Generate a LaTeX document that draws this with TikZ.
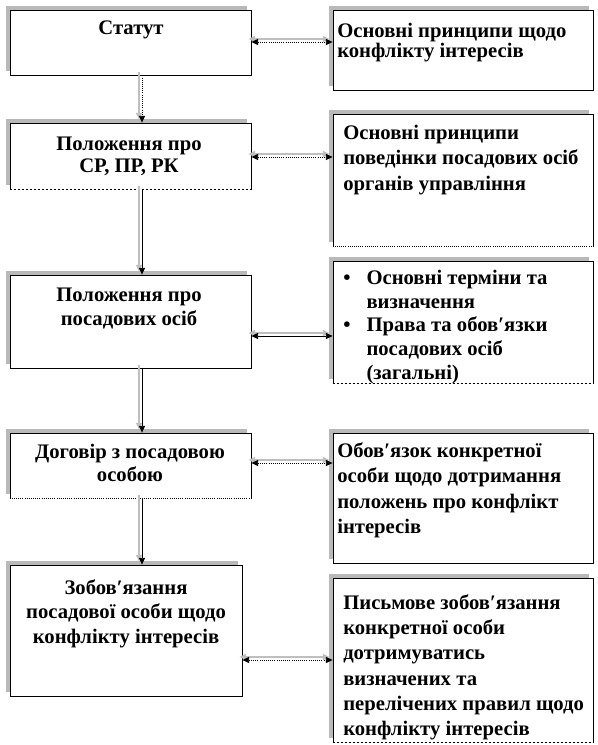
\documentclass[tikz,border=0pt]{standalone}
\usepackage{fontspec}
\setmainfont{Liberation Serif}
\usetikzlibrary{arrows.meta,shadows,fit}
\newcommand{\wsp}{\hspace{4pt}}
\begin{document}
\begin{tikzpicture}[x=0.75pt,y=-0.75pt,
  box/.style={draw=black, line width=0.6pt, fill=white, inner sep=0pt,
    general shadow={fill=gray!55, shadow xshift=-3pt, shadow yshift=3pt}},
  ltext/.style={anchor=north, align=center, inner sep=0pt, font=\bfseries\fontsize{15.5}{18}\selectfont},
  rtext/.style={anchor=north west, align=left, inner sep=0pt, font=\bfseries\fontsize{15.5}{19}\selectfont},
  tipv/.style={-{Triangle[length=5pt,width=4.5pt]}},
  tipd/.style={{Triangle[length=5pt,width=4.5pt]}-{Triangle[length=5pt,width=4.5pt]}},
  conn/.style={line width=0.6pt, preaction={draw=gray!50, line width=1pt, transform canvas={shift={(-3,-3)}}}},
  erase/.style={draw=white, line width=0.9pt},
  edge dot/.style={draw=black, line width=0.6pt, densely dotted},
  edge dash/.style={draw=black, line width=0.6pt, dash pattern=on 2pt off 1pt}
]
\useasboundingbox (0,0) rectangle (598,745);
% left boxes
\node[box, fit={(10,10) (251,75)}] (l1) {};
\node[box, fit={(10,123) (251,189)}] (l2) {};
\node[box, fit={(10,275) (251,368)}] (l3) {};
\node[box, fit={(10,433) (251,498)}] (l4) {};
\node[box, fit={(10,565) (242,696)}] (l5) {};
% right boxes
\node[box, fit={(333,10) (593,90)}] (r1) {};
\node[box, fit={(333,114) (593,246)}] (r2) {};
\node[box, fit={(333,261) (593,383)}] (r3) {};
\node[box, fit={(333,433) (593,563)}] (r4) {};
\node[box, fit={(333,578) (593,742)}] (r5) {};
% broken bottom edges
\draw[erase] (l2.south west) -- (l2.south east);
\draw[edge dash] (l2.south west) -- (l2.south east);
\draw[erase] (l4.south west) -- (l4.south east);
\draw[edge dot] (l4.south west) -- (l4.south east);
\draw[erase] (r2.south west) -- (r2.south east);
\draw[edge dot] (r2.south west) -- (r2.south east);
\draw[erase] (r3.south west) -- (r3.south east);
\draw[edge dash] (r3.south west) -- (r3.south east);
\draw[erase] (r5.south west) -- (r5.south east);
\draw[edge dash] (r5.south west) -- (r5.south east);
% left texts
\node[ltext] (l1t) at (131,21) {Статут};
\node[ltext, font=\bfseries\fontsize{15.5}{16.5}\selectfont] (l2t) at (129,137) {Положення про\\СР, ПР, РК};
\node[ltext] (l3t) at (129,288) {Положення про\\посадових осіб};
\node[ltext, font=\bfseries\fontsize{15.5}{17}\selectfont] (l4t) at (130,444) {Договір з посадовою\\особою};
\node[ltext, font=\bfseries\fontsize{15.5}{18.5}\selectfont] (l5t) at (126,579) {Зобов′язання\\посадової особи щодо\\конфлікту\wsp інтересів};
% right texts
\node[rtext, font=\bfseries\fontsize{15.5}{15}\selectfont] (r1t) at (337,23) {Основні принципи\wsp щодо\\конфлікту\wsp інтересів};
\node[rtext] (r2t) at (343,125) {Основні принципи\\поведінки посадових осіб\\органів управління};
\node[rtext] (r3t) at (343,268) {\renewcommand{\arraystretch}{0.93}%
  \begin{tabular}{@{}l@{\hspace{12pt}}l@{}}
  \textbullet & Основні терміни та\\
              & визначення\\
  \textbullet & Права та обов′язки\\
              & посадових осіб\\
              & (загальні)
  \end{tabular}};
\node[rtext, font=\bfseries\fontsize{15.5}{19.2}\selectfont] (r4t) at (337,442) {Обов′язок конкретної\\особи щодо дотримання\\положень про конфлікт\\інтересів};
\node[rtext] (r5t) at (343,594) {Письмове зобов′язання\\конкретної особи\\дотримуватись\\визначених\wsp та\\перелічених правил щодо\\конфлікту\wsp інтересів};
% vertical connectors
\coordinate (vx) at (142,0);
\draw[conn, tipv, densely dotted] (vx |- l1.south) -- (vx |- l2.north);
\draw[conn, tipv] (vx |- l2.south) -- (vx |- l3.north);
\draw[conn, tipv] (vx |- l3.south) -- (vx |- l4.north);
\draw[conn, tipv] (vx |- l4.south) -- (vx |- l5.north);
% horizontal connectors
\draw[conn, tipd, densely dotted] (l1.east |- 0,42) -- (r1.west |- 0,42);
\draw[conn, tipd, densely dotted] (l2.east |- 0,157) -- (r2.west |- 0,157);
\draw[conn, tipd] (l3.east |- 0,336) -- (r3.west |- 0,336);
\draw[conn, tipd, densely dotted] (l4.east |- 0,463) -- (r4.west |- 0,463);
\draw[conn, tipd, densely dotted] (l5.east |- 0,660) -- (r5.west |- 0,660);
\end{tikzpicture}
\end{document}
